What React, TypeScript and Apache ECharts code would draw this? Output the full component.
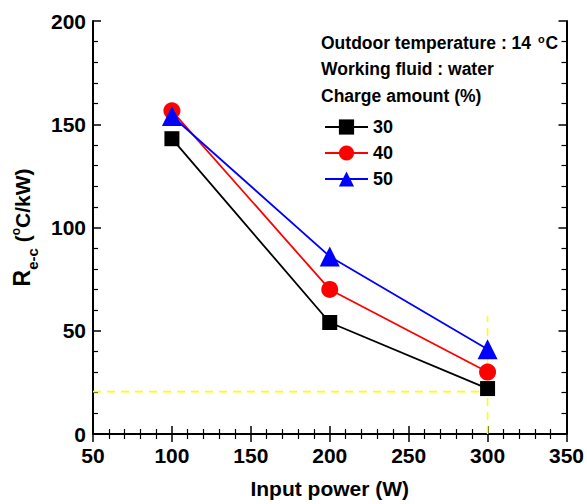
import React, { useEffect, useRef } from "react";
import * as echarts from "echarts";

const inputPower = [100, 200, 300];
const charge30 = [143, 54, 22];
const charge40 = [156.5, 70, 30];
const charge50 = [154, 86, 41];
const seriesNames = ["30", "40", "50"];
const guideH = [[50, 20.5], [300, 20.5]];
const guideV = [[300, 0], [300, 57]];
const xTicks = { min: 50, max: 350, interval: 50 };
const yTicks = { min: 0, max: 200, interval: 50 };

const FONT = "Arial, 'Liberation Sans', Helvetica, sans-serif";

export default function App() {
  const ref = useRef<HTMLDivElement>(null);
  useEffect(() => {
    if (!ref.current) return;
    const chart = echarts.init(ref.current, null, { renderer: "svg" });
    const axisCommon = {
      axisLine: { show: true, lineStyle: { color: "#000", width: 2 } },
      axisTick: { show: true, inside: true, length: 8, lineStyle: { color: "#000", width: 1.5 } },
      minorTick: { show: true, splitNumber: 5, length: 5, lineStyle: { color: "#000", width: 1.2 } },
      splitLine: { show: false },
    };
    const mk = (vals: number[]) => inputPower.map((x, i) => [x, vals[i]]);
    const lineSeries = (name: string, data: number[], color: string, symbol: string, size: number) => ({
      name,
      type: "line",
      data: mk(data),
      symbol,
      symbolSize: size,
      itemStyle: { color },
      lineStyle: { color, width: 1.8 },
      z: 3,
    });
    const guide = (data: number[][]) => ({
      type: "line",
      data,
      symbol: "none",
      lineStyle: { color: "#ffff00", width: 1.6, type: [8, 6] },
      z: 1,
      silent: true,
    });
    chart.setOption({
      animation: false,
      grid: { left: 93, right: 19, top: 21, bottom: 69 },
      xAxis: [
        {
          type: "value",
          ...xTicks,
          ...axisCommon,
          name: "Input power (W)",
          nameLocation: "middle",
          nameGap: 44,
          nameTextStyle: { fontFamily: FONT, fontWeight: "bold", fontSize: 21, color: "#000" },
          axisLabel: { fontFamily: FONT, fontWeight: "bold", fontSize: 21, color: "#000", margin: 11 },
        },
        {
          type: "value",
          position: "top",
          ...xTicks,
          ...axisCommon,
          axisLabel: { show: false },
        },
      ],
      yAxis: [
        {
          type: "value",
          ...yTicks,
          ...axisCommon,
          name: "{r|R}{sub|e-c}{p| (}{sup|o}{p|C/kW)}",
          nameLocation: "middle",
          nameRotate: 90,
          nameGap: 50,
          nameTextStyle: {
            color: "#000",
            rich: {
              r: { fontFamily: FONT, fontWeight: "bold", fontSize: 23, color: "#000", lineHeight: 28 },
              sub: { fontFamily: FONT, fontWeight: "bold", fontSize: 15, color: "#000", verticalAlign: "bottom", lineHeight: 28, padding: [0, 0, -4, 0] },
              sup: { fontFamily: FONT, fontWeight: "bold", fontSize: 12, color: "#000", verticalAlign: "top", lineHeight: 28, padding: [2, 0, 0, 0] },
              p: { fontFamily: FONT, fontWeight: "bold", fontSize: 21, color: "#000", lineHeight: 28 },
            },
          },
          axisLabel: { fontFamily: FONT, fontWeight: "bold", fontSize: 21, color: "#000", margin: 7 },
        },
        {
          type: "value",
          position: "right",
          ...yTicks,
          ...axisCommon,
          axisLabel: { show: false },
        },
      ],
      legend: {
        orient: "vertical",
        left: 319,
        top: 113,
        itemWidth: 43,
        itemHeight: 19,
        itemGap: 8,
        data: seriesNames,
        textStyle: { fontFamily: FONT, fontWeight: "bold", fontSize: 18, color: "#000" },
      },
      graphic: [
        {
          type: "text",
          left: 321,
          top: 33,
          style: {
            text: "Outdoor temperature : 14 {s|o}C",
            fontFamily: FONT,
            fontWeight: "bold",
            fontSize: 17.5,
            fill: "#000",
            rich: { s: { fontSize: 11, fontWeight: "bold", fontFamily: FONT, verticalAlign: "top", padding: [0, 1, 8, 2] } },
          },
        },
        {
          type: "text",
          left: 321,
          top: 60,
          style: { text: "Working fluid : water", fontFamily: FONT, fontWeight: "bold", fontSize: 17.5, fill: "#000" },
        },
        {
          type: "text",
          left: 321,
          top: 87,
          style: { text: "Charge amount (%)", fontFamily: FONT, fontWeight: "bold", fontSize: 17.5, fill: "#000" },
        },
      ],
      series: [
        guide(guideH),
        guide(guideV),
        lineSeries(seriesNames[0], charge30, "#000000", "rect", 15),
        lineSeries(seriesNames[1], charge40, "#ff0000", "circle", 17),
        lineSeries(seriesNames[2], charge50, "#0000ff", "triangle", 20),
      ],
    });
    return () => chart.dispose();
  }, []);
  return <div ref={ref} style={{ position: "absolute", left: 0, top: 0, width: 587, height: 504 }} />;
}
